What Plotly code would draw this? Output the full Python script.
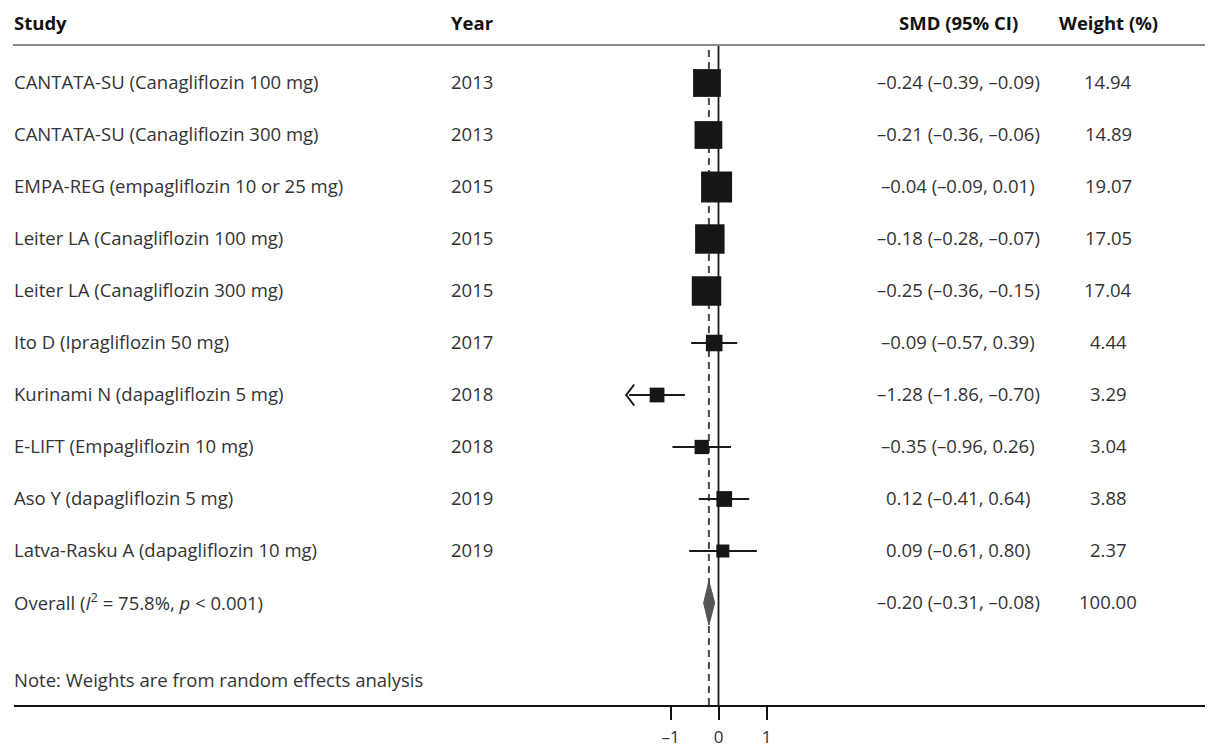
import numpy as np
import plotly.graph_objects as go

# ---------------- data ----------------
studies = [
    "CANTATA-SU (Canagliflozin 100 mg)",
    "CANTATA-SU (Canagliflozin 300 mg)",
    "EMPA-REG (empagliflozin 10 or 25 mg)",
    "Leiter LA (Canagliflozin 100 mg)",
    "Leiter LA (Canagliflozin 300 mg)",
    "Ito D (Ipragliflozin 50 mg)",
    "Kurinami N (dapagliflozin 5 mg)",
    "E-LIFT (Empagliflozin 10 mg)",
    "Aso Y (dapagliflozin 5 mg)",
    "Latva-Rasku A (dapagliflozin 10 mg)",
]
years = [2013, 2013, 2015, 2015, 2015, 2017, 2018, 2018, 2019, 2019]
smd = [-0.24, -0.21, -0.04, -0.18, -0.25, -0.09, -1.28, -0.35, 0.12, 0.09]
ci_low = [-0.39, -0.36, -0.09, -0.28, -0.36, -0.57, -1.86, -0.96, -0.41, -0.61]
ci_high = [-0.09, -0.06, 0.01, -0.07, -0.15, 0.39, -0.70, 0.26, 0.64, 0.80]
weights = [14.94, 14.89, 19.07, 17.05, 17.04, 4.44, 3.29, 3.04, 3.88, 2.37]

overall_label = "Overall (<i>I</i><sup>2</sup> = 75.8%, <i>p</i> &lt; 0.001)"
overall_smd = -0.20
overall_low = -0.31
overall_high = -0.08
overall_weight = 100.00
note_text = "Note: Weights are from random effects analysis"

headers = ["Study", "Year", "SMD (95% CI)", "Weight (%)"]
tick_vals = [-1, 0, 1]
tick_text = ["–1", "0", "1"]
arrow_below = -1.5  # CIs extending below this get an arrowhead

# ---------------- layout helpers ----------------
OFF = 8                                  # page body margin
W, H = 1213 - OFF, 747 - OFF
PL, PR, PT, PB = 14, 1213, 45, 705       # plot area in page pixels
X0PX, PXU = 718.5, 48.0                  # page pixel of x=0, pixels per unit
ROW0PX, ROWPX = 83.0, 52.0               # page pixel of first row, row spacing
TEXT_SHIFT = -1.5                        # small vertical nudge of text rows


def px2x(px):
    return (px - X0PX) / PXU


def py2y(py):
    return -(py - ROW0PX) / ROWPX


def px2paper(px):
    return (px - PL) / (PR - PL)


def py2paper(py):
    return (PB - py) / (PB - PT)


def fmt(v):
    return f"{v:.2f}".replace("-", "–")


n = len(studies)
rows = [-i for i in range(n)]
overall_row = -n

TXT = "#333333"
FONT = "Open Sans"
FS = 18.5

fig = go.Figure()

# CI lines
cx, cy = [], []
for lo, hi, r in zip(ci_low, ci_high, rows):
    cx += [lo, hi, None]
    cy += [r, r, None]
# open arrowheads for long CIs
for lo, r in zip(ci_low, rows):
    if lo < arrow_below:
        tip = lo - 3 / PXU
        dx, dy = 8 / PXU, 10.5 / ROWPX
        cx += [tip + dx, tip, tip + dx, None]
        cy += [r + dy, r, r - dy, None]
fig.add_trace(go.Scatter(x=cx, y=cy, mode="lines",
                         line=dict(color="#1a1a1a", width=2),
                         hoverinfo="skip", showlegend=False))

# boxes (size from weight)
sizes = [3.2 + 6.36 * np.sqrt(w) for w in weights]
fig.add_trace(go.Scatter(x=smd, y=rows, mode="markers",
                         marker=dict(symbol="square", size=sizes, opacity=1,
                                     color="#161616", line=dict(width=0)),
                         showlegend=False))

# overall diamond
dh = 22 / ROWPX
fig.add_trace(go.Scatter(
    x=[overall_low, overall_smd, overall_high, overall_smd, overall_low],
    y=[overall_row, overall_row + dh, overall_row, overall_row - dh, overall_row],
    mode="lines", fill="toself", fillcolor="#555555",
    line=dict(color="#555555", width=1), showlegend=False, hoverinfo="skip"))

annotations = []
col_study = px2paper(12)
col_year = px2paper(449)
col_smd = px2paper(958)
col_w = px2paper(1108)


def row_paper(r):
    return py2paper(ROW0PX - r * ROWPX + TEXT_SHIFT)


def add_text(x, y, text, anchor="left", bold=False):
    annotations.append(dict(
        x=x, y=y, xref="paper", yref="paper",
        text=f"<b>{text}</b>" if bold else text,
        showarrow=False, xanchor=anchor, yanchor="middle",
        font=dict(family=FONT, size=FS, color="#111" if bold else TXT)))


hy = py2paper(24 + TEXT_SHIFT)
add_text(col_study, hy, headers[0], "left", True)
add_text(col_year, hy, headers[1], "left", True)
add_text(col_smd, hy, headers[2], "center", True)
add_text(col_w, hy, headers[3], "center", True)

for i in range(n):
    y = row_paper(rows[i])
    add_text(col_study, y, studies[i])
    add_text(col_year, y, str(years[i]))
    add_text(col_smd, y, f"{fmt(smd[i])} ({fmt(ci_low[i])}, {fmt(ci_high[i])})", "center")
    add_text(col_w, y, fmt(weights[i]), "center")

y = row_paper(overall_row)
add_text(col_study, y, overall_label)
add_text(col_smd, y, f"{fmt(overall_smd)} ({fmt(overall_low)}, {fmt(overall_high)})", "center")
add_text(col_w, y, fmt(overall_weight), "center")
add_text(col_study, py2paper(681 + TEXT_SHIFT), note_text)

shapes = [
    dict(type="line", xref="paper", yref="paper", x0=px2paper(13), x1=1, y0=1, y1=1,
         line=dict(color="#8a8a8a", width=2)),
    dict(type="line", xref="x", yref="paper", x0=0, x1=0, y0=0, y1=1,
         line=dict(color="#1a1a1a", width=1.8), layer="below"),
    dict(type="line", xref="x", yref="paper", x0=overall_smd, x1=overall_smd,
         y0=0, y1=1, line=dict(color="#4a4a4a", width=2, dash="7px,5px"),
         layer="below"),
]

fig.update_layout(
    width=W, height=H,
    margin=dict(l=PL - OFF, r=1213 - PR, t=PT - OFF, b=747 - PB, pad=0),
    paper_bgcolor="white", plot_bgcolor="white",
    showlegend=False,
    annotations=annotations, shapes=shapes,
    xaxis=dict(range=[px2x(PL), px2x(PR)], tickvals=tick_vals, ticktext=tick_text,
               showgrid=False, zeroline=False, showline=True,
               linecolor="#111", linewidth=2, ticks="outside", ticklen=13,
               tickwidth=1.5, tickcolor="#111", ticklabelstandoff=3,
               tickfont=dict(family=FONT, size=17, color=TXT)),
    yaxis=dict(range=[py2y(PB), py2y(PT)], visible=False, showgrid=False,
               zeroline=False),
)

fig.write_html("out.html")
